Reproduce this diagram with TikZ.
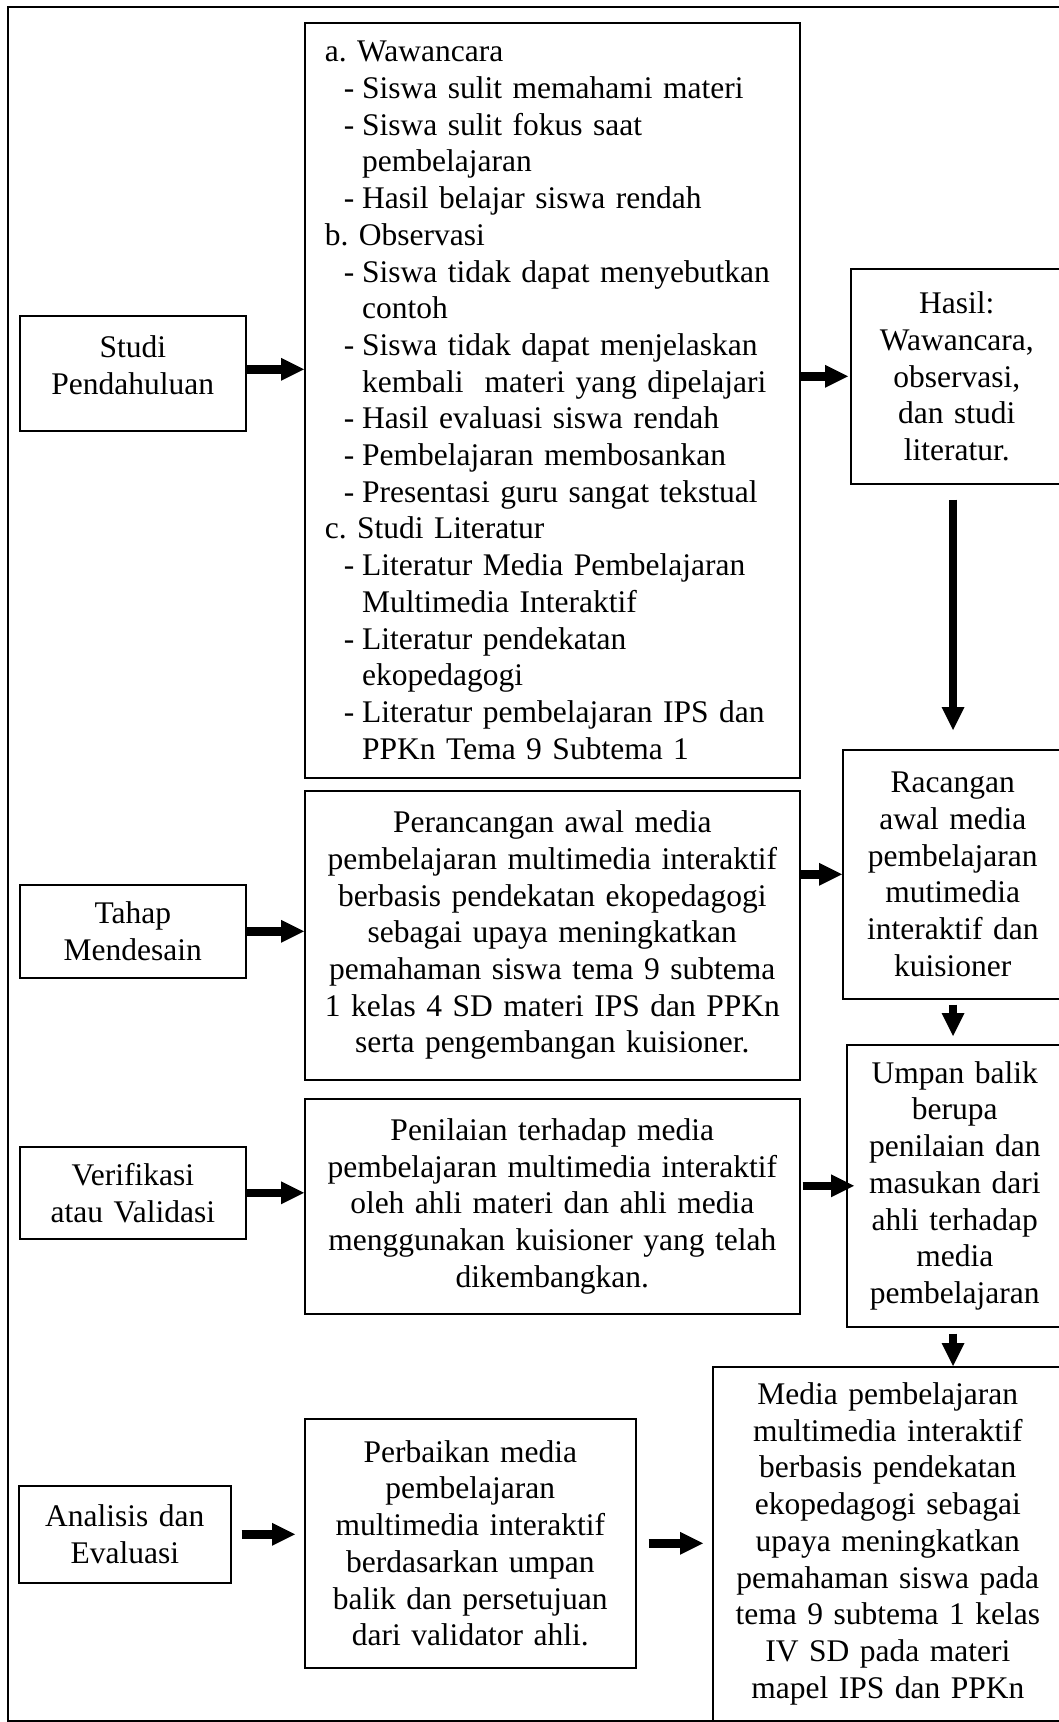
\documentclass[tikz,border=0pt]{standalone}
\usepackage{fontspec}
\setmainfont{Liberation Serif}
\usetikzlibrary{arrows.meta}
\frenchspacing
\newcommand{\itm}{\hspace*{19pt}\makebox[18.4pt][l]{-}}
\newcommand{\cnt}{\hspace*{37.4pt}}

\begin{document}
\begin{tikzpicture}[x=1pt,y=-1pt,font=\fontsize{31.5pt}{36.7pt}\selectfont,
  box/.style={draw,line width=1.6pt,anchor=north west,align=center,inner xsep=4pt,inner ysep=2pt},
  blk/.style={line width=8.5pt,-{Triangle[length=23pt,width=23pt,line width=0pt]}}]
 \clip (0,0) rectangle (1059,1722);
 \draw[line width=1.6pt] (8,7) rectangle (1075,1721);
 \node[box,minimum width=226pt,minimum height=115pt,text width=218pt] (studi) at (19,315) {Studi\\Pendahuluan\rule[-16pt]{0pt}{16pt}};
 \node[box,minimum width=226pt,minimum height=93pt,text width=218pt] (tahap) at (19,884) {Tahap\\Mendesain};
 \node[box,minimum width=226pt,minimum height=92pt,text width=218pt] (verif) at (19,1146) {Verifikasi\\atau Validasi};
 \node[box,minimum width=212pt,minimum height=97pt,text width=204pt] (analisis) at (18,1485) {Analisis dan\\Evaluasi};
 \node[box,align=left,inner xsep=20pt,minimum width=495pt,minimum height=755pt,text width=455pt] (list) at (304,22) {a. Wawancara\\
  \itm Siswa sulit memahami materi\\
  \itm Siswa sulit fokus saat\\
  \cnt pembelajaran\\
  \itm Hasil belajar siswa rendah\\
  b. Observasi\\
  \itm Siswa tidak dapat menyebutkan\\
  \cnt contoh\\
  \itm Siswa tidak dapat menjelaskan\\
  \cnt kembali\ \ materi yang dipelajari\\
  \itm Hasil evaluasi siswa rendah\\
  \itm Pembelajaran membosankan\\
  \itm Presentasi guru sangat tekstual\\
  c. Studi Literatur\\
  \itm Literatur Media Pembelajaran\\
  \cnt Multimedia Interaktif\\
  \itm Literatur pendekatan\\
  \cnt ekopedagogi\\
  \itm Literatur pembelajaran IPS dan\\
  \cnt PPKn Tema 9 Subtema 1};
 \node[box,minimum width=495pt,minimum height=289pt,text width=487pt] (rancang) at (304,790) {Perancangan awal media\\pembelajaran multimedia interaktif\\berbasis pendekatan ekopedagogi\\sebagai upaya meningkatkan\\pemahaman siswa tema 9 subtema\\1 kelas 4 SD materi IPS dan PPKn\\serta pengembangan kuisioner.};
 \node[box,minimum width=495pt,minimum height=215pt,text width=487pt] (nilai) at (304,1098) {Penilaian terhadap media\\pembelajaran multimedia interaktif\\oleh ahli materi dan ahli media\\menggunakan kuisioner yang telah\\dikembangkan.};
 \node[box,minimum width=331pt,minimum height=249pt,text width=323pt] (perbaikan) at (304,1418) {Perbaikan media\\pembelajaran\\multimedia interaktif\\berdasarkan umpan\\balik dan persetujuan\\dari validator ahli.};
 \node[box,minimum width=212pt,minimum height=215pt,text width=204pt] (hasil) at (850,268) {Hasil:\\Wawancara,\\observasi,\\dan studi\\literatur.};
 \node[box,minimum width=220pt,minimum height=249pt,text width=212pt] (racangan) at (842,749) {Racangan\\awal media\\pembelajaran\\mutimedia\\interaktif dan\\kuisioner};
 \node[box,minimum width=216pt,minimum height=282pt,text width=208pt] (umpan) at (846,1044) {Umpan balik\\berupa\\penilaian dan\\masukan dari\\ahli terhadap\\media\\pembelajaran};
 \node[box,minimum width=350pt,minimum height=354pt,text width=342pt] (media) at (712,1366) {Media pembelajaran\\multimedia interaktif\\berbasis pendekatan\\ekopedagogi sebagai\\upaya meningkatkan\\pemahaman siswa pada\\tema 9 subtema 1 kelas\\IV SD pada materi\\mapel IPS dan PPKn};
 \coordinate (spine) at (953,0);
 \draw[blk] ([yshift=4pt]studi.east) -- ([yshift=4pt]studi.east -| list.west);
 \draw[blk,shorten >=2pt] (hasil.west -| list.east) -- (hasil.west);
 \draw[blk] (tahap.east) -- (tahap.east -| rancang.west);
 \draw[blk] (racangan.west -| rancang.east) -- (racangan.west);
 \draw[blk] (verif.east) -- (verif.east -| nilai.west);
 \draw[blk,shorten <=2pt,shorten >=-8pt] (umpan.west -| nilai.east) -- (umpan.west);
 \draw[blk,shorten <=10pt,shorten >=9pt] (analisis.east) -- (analisis.east -| perbaikan.west);
 \draw[blk,shorten <=12pt,shorten >=9pt] (perbaikan.east) -- (perbaikan.east -| media.west);
 \draw[blk,shorten <=15pt,shorten >=19pt] (hasil.south -| spine) -- (racangan.north -| spine);
 \draw[blk,shorten <=5pt,shorten >=8pt] (racangan.south -| spine) -- (umpan.north -| spine);
 \draw[blk,shorten <=6pt] (umpan.south -| spine) -- (media.north -| spine);
\end{tikzpicture}
\end{document}
